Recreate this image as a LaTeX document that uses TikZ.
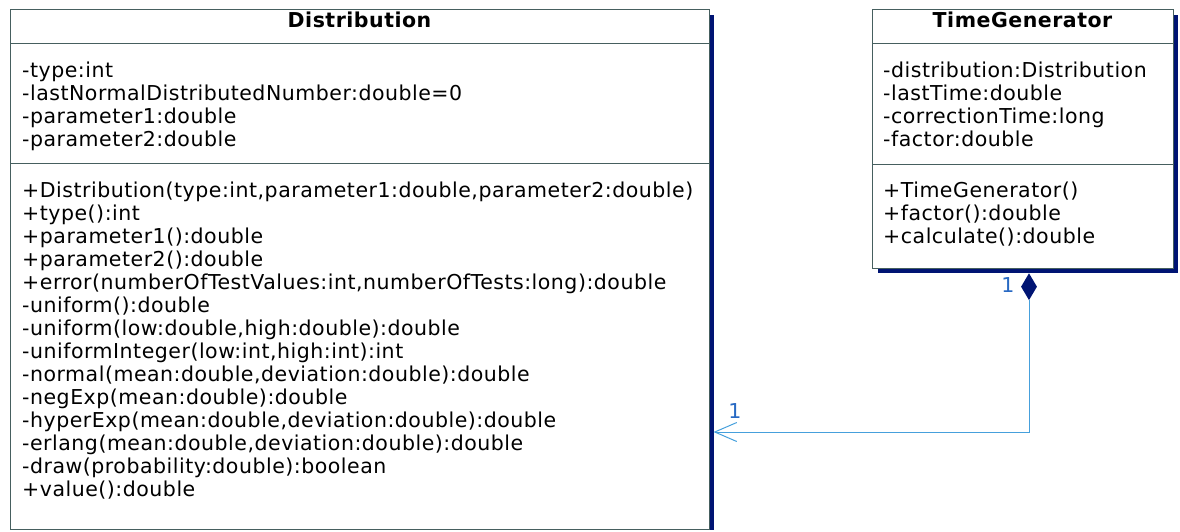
\documentclass[tikz,border=0pt]{standalone}
\usepackage{fontspec}
\setmainfont[LetterSpace = 2.5]{DejaVu Sans}
\usetikzlibrary{shapes.geometric, arrows.meta}

\definecolor{frameclr}{RGB}{70,95,95}
\definecolor{shadowclr}{RGB}{0,20,115}
\definecolor{assocclr}{RGB}{70,160,220}
\definecolor{multclr}{RGB}{40,105,195}

\newcommand\umlfont{\fontsize{20.5}{23}\selectfont}

\tikzset{
	classbox/.style = {draw = frameclr, line width = 0.9pt, fill = white, anchor = north west, inner sep = 0pt},
	member/.style = {anchor = base west, inner sep = 0pt, font = \umlfont},
	classname/.style = {anchor = base, inner sep = 0pt, font = \umlfont\bfseries},
	mult/.style = {text = multclr, inner sep = 0pt, font = \umlfont},
	boxshadow/.style = {shadowclr, line width = 4pt},
	assoc/.style = {assocclr, line width = 1pt, -{Straight Barb[length = 22pt, width = 19pt, line width = 1pt]}}
}

\begin{document}
\begin{tikzpicture}[x = 1pt, y = -1pt]
	\useasboundingbox (0,0) rectangle (1180,531);

	% class Distribution
	\node [classbox, minimum width = 699pt, minimum height = 520pt] (dist) at (10,9) {};
	\draw [boxshadow] ([xshift = 2.4pt, yshift = -6pt]dist.north east) -- ([xshift = 2.4pt]dist.south east);
	\draw [frameclr, line width = 0.9pt] (10,43) -- (709,43);
	\draw [frameclr, line width = 0.9pt] (10,163) -- (709,163);
	\node [classname] (distname) at (359.5,27) {Distribution};
	\foreach \txt [count = \i from 0] in {{-type:int}, {-lastNormalDistributedNumber:double=0},
		{-parameter1:double}, {-parameter2:double}}
		\node [member] (distattr\i) at (22,77+23*\i) {\txt};
	\foreach \txt [count = \i from 0] in {{+Distribution(type:int,parameter1:double,parameter2:double)},
		{+type():int}, {+parameter1():double}, {+parameter2():double},
		{+error(numberOfTestValues:int,numberOfTests:long):double},
		{-uniform():double}, {-uniform(low:double,high:double):double},
		{-uniformInteger(low:int,high:int):int},
		{-normal(mean:double,deviation:double):double},
		{-negExp(mean:double):double},
		{-hyperExp(mean:double,deviation:double):double},
		{-erlang(mean:double,deviation:double):double},
		{-draw(probability:double):boolean}, {+value():double}}
		\node [member] (distop\i) at (22,197+23*\i) {\txt};

	% class TimeGenerator
	\node [classbox, minimum width = 301pt, minimum height = 259pt] (timegen) at (872,9) {};
	\draw [boxshadow] ([xshift = 6pt, yshift = -2.4pt]timegen.south west) -| ([xshift = 2.4pt, yshift = -6pt]timegen.north east);
	\draw [frameclr, line width = 0.9pt] (872,43) -- (1173,43);
	\draw [frameclr, line width = 0.9pt] (872,164) -- (1173,164);
	\node [classname] (timegenname) at (1022.5,27) {TimeGenerator};
	\foreach \txt [count = \i from 0] in {{-distribution:Distribution}, {-lastTime:double},
		{-correctionTime:long}, {-factor:double}}
		\node [member] (tgattr\i) at (883,77+23*\i) {\txt};
	\foreach \txt [count = \i from 0] in {{+TimeGenerator()}, {+factor():double}, {+calculate():double}}
		\node [member] (tgop\i) at (883,197+23*\i) {\txt};

	% composition
	\node [diamond, fill = shadowclr, minimum width = 16pt, minimum height = 27pt, inner sep = 0pt, anchor = north] (comp) at (1029,273) {};
	\coordinate (distin) at (713.5,432);
	\draw [assoc] (comp.south) |- (distin);
	\node [mult] (multtg) at (1008,285) {1};
	\node [mult] (multdist) at (735,411) {1};
\end{tikzpicture}
\end{document}
